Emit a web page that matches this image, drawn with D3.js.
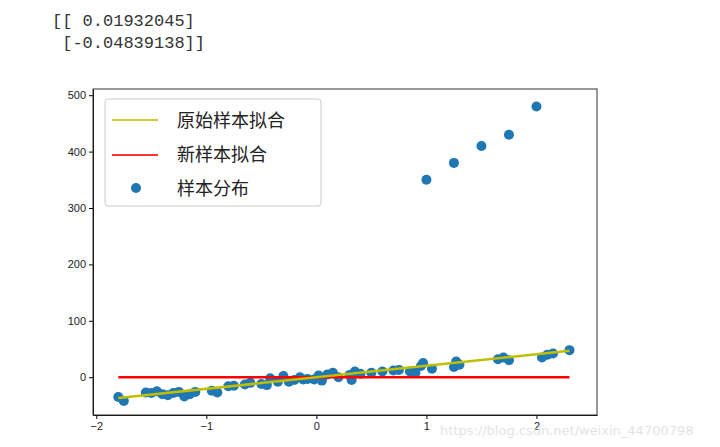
<!DOCTYPE html>
<html><head><meta charset="utf-8">
<script src="https://cdn.jsdelivr.net/npm/d3@7"></script>
<style>body{margin:0;background:#fff}</style>
</head><body><div id="canvas"></div>
<script>
const coefText = ["[[ 0.01932045]", " [-0.04839138]]"]
const sampleX = [-1.8,-1.75,-1.55,-1.5,-1.45,-1.4,-1.35,-1.3,-1.25,-1.2,-1.15,-1.1,-0.95,-0.9,-0.8,-0.75,-0.65,-0.6,-0.5,-0.45,-0.42,-0.35,-0.3,-0.25,-0.2,-0.15,-0.12,-0.08,-0.02,0.02,0.05,0.1,0.15,0.2,0.3,0.32,0.35,0.4,0.5,0.6,0.7,0.75,0.85,0.9,0.95,0.97,1.05,1.25,1.27,1.3,1.65,1.7,1.75,2.05,2.1,2.15,2.3,1.0,1.25,1.5,1.75,2.0]
const sampleY = [-35,-42,-27,-28,-25,-30,-32,-28,-26,-34,-30,-26,-24,-27,-16,-15,-13,-10,-12,-14,-2,-8,2,-8,-5,0,-4,-3,-4,3,-6,5,8,0,4,-5,10,6,8,10,12,13,10,8,20,25,15,18,28,22,32,35,30,35,40,42,48,350,380,410,430,480]
const origFit = {x:[-1.8,2.3], y:[-37,47]}
const newFit = {x:[-1.8,2.3], y:[0.01932045*-1.8-0.04839138, 0.01932045*2.3-0.04839138]}
const xTicks = [-2,-1,0,1,2]
const yTicks = [0,100,200,300,400,500]
const legendLabels = ["原始样本拟合","新样本拟合","样本分布"]

const svg = d3.select("#canvas").append("svg").attr("width",720).attr("height",447)
    .style("font-family","'DejaVu Sans',sans-serif")

svg.selectAll(".coef").data(coefText).join("text")
    .attr("x",52).attr("y",(d,i)=>26+i*22)
    .style("font-family","'Liberation Mono',monospace").style("font-size","17px")
    .style("white-space","pre").attr("xml:space","preserve")
    .attr("fill","#333").text(d=>d)

const pLeft=93, pRight=597, pTop=89, pBottom=415
const x = d3.scaleLinear().domain([-2.03,2.55]).range([pLeft,pRight])
const y = d3.scaleLinear().domain([-67,511]).range([pBottom,pTop])

svg.append("g").attr("transform","translate(0,"+pBottom+")")
    .call(d3.axisBottom(x).tickValues(xTicks).tickFormat(d3.format("d")).tickSize(4).tickSizeOuter(0))
    .call(g=>g.selectAll("text").style("font-size","11px").attr("fill","#222"))
svg.append("g").attr("transform","translate("+pLeft+",0)")
    .call(d3.axisLeft(y).tickValues(yTicks).tickSize(4).tickSizeOuter(0))
    .call(g=>g.selectAll("text").style("font-size","11px").attr("fill","#222"))
svg.append("rect").attr("x",pLeft).attr("y",pTop).attr("width",pRight-pLeft).attr("height",pBottom-pTop)
    .attr("fill","none").attr("stroke","#333").attr("stroke-width",1)

svg.selectAll(".pt").data(sampleX).join("circle")
    .attr("cx",d=>x(d)).attr("cy",(d,i)=>y(sampleY[i])).attr("r",5).attr("fill","#1f77b4")

const line = d3.line()
svg.append("path").attr("d",line(newFit.x.map((v,i)=>[x(v),y(newFit.y[i])])))
    .attr("stroke","red").attr("stroke-width",2.5).attr("fill","none")
svg.append("path").attr("d",line(origFit.x.map((v,i)=>[x(v),y(origFit.y[i])])))
    .attr("stroke","#bfbf00").attr("stroke-width",2.5).attr("fill","none")

const lg = svg.append("g")
lg.append("rect").attr("x",105).attr("y",99).attr("width",216).attr("height",107).attr("rx",3)
    .attr("fill","white").attr("fill-opacity",0.8).attr("stroke","#ccc")
const lcol = ["#cccc33","#ff3333"]
lg.selectAll(".ln").data(lcol).join("line")
    .attr("x1",112).attr("x2",158).attr("y1",(d,i)=>120+i*35).attr("y2",(d,i)=>120+i*35)
    .attr("stroke",d=>d).attr("stroke-width",2)
lg.append("circle").attr("cx",136).attr("cy",188).attr("r",5).attr("fill","#1f77b4")
lg.selectAll(".lt").data(legendLabels).join("text")
    .attr("x",177).attr("y",(d,i)=>127+i*34)
    .style("font-family","'Noto Sans CJK SC',sans-serif").style("font-size","18px")
    .attr("fill","#222").text(d=>d)

svg.append("text").attr("x",440).attr("y",435).style("font-size","13px")
    .attr("fill","#ddd").attr("opacity",0.8).text("https://blog.csdn.net/weixin_44700798")
</script></body></html>
